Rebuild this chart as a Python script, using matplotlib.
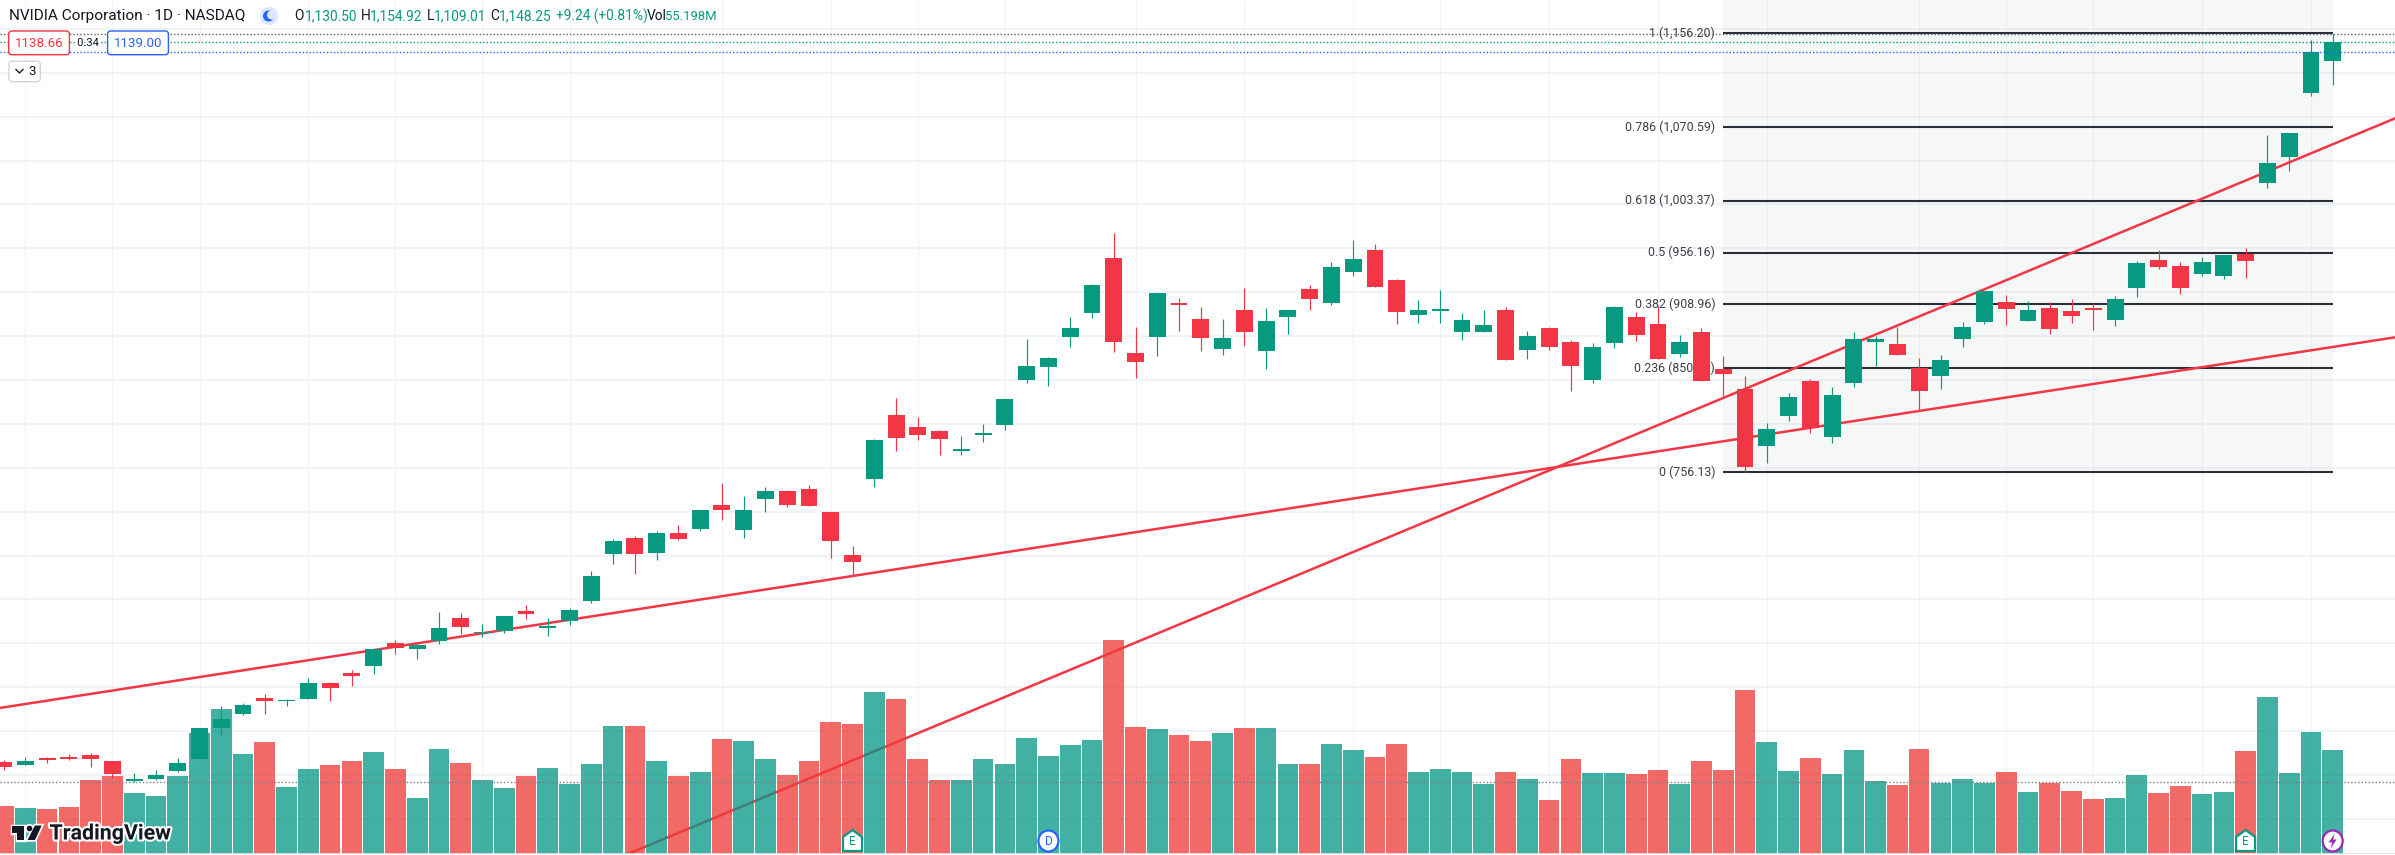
import matplotlib
matplotlib.use("Agg")
import matplotlib.patheffects as pe
import matplotlib.pyplot as plt
import numpy as np
from matplotlib.patches import Circle, Ellipse, FancyBboxPatch, Polygon, Rectangle

plt.rcParams["font.family"] = ["Roboto", "DejaVu Sans"]

opens = [491.5, 489.1, 495.5, 496.4, 498.2, 492.7, 474.8, 476.3, 483.6, 494.6,
         522.8, 535.6, 550.2, 547.1, 549.3, 563.8, 573.0, 579.3, 600.3, 594.8,
         602.1, 623.1, 609.1, 611.2, 629.4, 614.0, 620.3, 638.6, 681.4, 696.0,
         682.3, 700.5, 704.2, 726.0, 703.3, 731.5, 738.8, 740.6, 719.7, 680.5,
         750.0, 808.1, 797.1, 793.5, 775.2, 789.8, 799.0, 840.0, 851.8, 879.1,
         901.0, 951.1, 864.6, 879.1, 910.1, 895.6, 868.2, 903.8, 866.4, 897.4,
         922.9, 910.1, 938.4, 958.4, 931.1, 899.2, 903.1, 883.7, 883.7, 903.8,
         867.3, 887.3, 874.6, 840.1, 873.7, 897.4, 891.0, 863.7, 883.7, 850.0,
         831.8, 779.8, 807.1, 839.0, 788.0, 837.2, 874.6, 872.8, 850.9, 843.6,
         877.3, 892.8, 911.0, 893.7, 905.6, 902.8, 904.7, 894.6, 923.8, 949.3,
         943.9, 936.6, 934.7, 954.8, 1019.5, 1043.2, 1101.5, 1130.5]
highs = [493.7, 496.4, 496.1, 498.8, 500.0, 492.7, 481.8, 484.5, 495.5, 522.8,
         542.9, 545.6, 553.8, 549.3, 568.4, 564.7, 575.7, 594.8, 603.0, 599.4,
         628.5, 627.6, 617.6, 624.9, 634.9, 623.1, 631.9, 665.9, 695.0, 697.8,
         702.3, 707.8, 721.5, 746.1, 734.2, 742.4, 739.7, 744.3, 719.7, 688.7,
         786.2, 823.6, 806.2, 794.4, 788.9, 799.9, 822.6, 877.3, 860.9, 897.4,
         927.4, 973.9, 888.3, 919.2, 914.7, 906.5, 895.6, 923.8, 905.6, 903.8,
         926.5, 947.5, 967.5, 963.9, 932.0, 912.9, 922.0, 901.0, 903.8, 906.5,
         884.6, 888.3, 876.4, 873.7, 907.4, 902.0, 907.4, 881.0, 887.3, 861.8,
         843.6, 800.8, 828.1, 840.9, 833.6, 883.7, 880.1, 888.3, 860.0, 862.7,
         892.8, 921.1, 917.4, 912.0, 911.0, 913.8, 910.1, 916.5, 948.4, 958.4,
         947.5, 952.1, 953.9, 960.3, 1063.2, 1065.0, 1149.8, 1154.92]
lows = [484.5, 489.1, 491.2, 493.7, 487.3, 477.0, 473.9, 475.4, 482.7, 494.6,
        516.4, 534.7, 535.6, 542.9, 549.3, 547.4, 561.1, 572.0, 590.3, 585.7,
        599.4, 608.5, 606.1, 609.4, 622.2, 606.7, 616.7, 636.7, 672.3, 663.2,
        675.9, 694.1, 702.3, 712.4, 696.0, 719.7, 724.2, 725.1, 677.7, 661.4,
        742.7, 775.2, 785.3, 771.6, 771.6, 783.5, 794.4, 837.2, 834.5, 870.0,
        896.5, 865.5, 841.8, 861.8, 884.6, 866.4, 862.7, 870.9, 850.0, 881.9,
        903.8, 908.3, 934.7, 924.7, 891.0, 891.9, 891.9, 876.4, 883.7, 858.2,
        859.1, 867.3, 829.9, 837.2, 869.1, 875.5, 859.1, 860.9, 839.0, 823.6,
        756.1, 764.3, 802.6, 791.7, 782.5, 833.6, 852.7, 862.7, 812.6, 831.8,
        870.0, 891.0, 890.1, 893.7, 881.9, 891.9, 885.5, 889.2, 915.6, 941.1,
        918.3, 934.7, 932.0, 932.9, 1014.9, 1030.4, 1098.8, 1109.01]
closes = [487.3, 492.7, 493.7, 494.6, 494.6, 480.9, 475.4, 480.0, 490.9, 522.8,
          531.0, 543.8, 547.4, 547.7, 563.8, 559.3, 570.2, 594.8, 595.7, 598.5,
          614.0, 614.9, 610.3, 624.9, 626.7, 614.9, 630.4, 661.3, 693.2, 681.4,
          700.5, 695.0, 721.5, 721.5, 721.5, 738.8, 726.0, 725.1, 693.2, 674.1,
          785.3, 787.1, 789.8, 786.2, 776.2, 790.7, 822.6, 852.7, 860.0, 887.3,
          926.5, 874.6, 856.4, 919.2, 908.3, 878.2, 878.2, 883.7, 893.7, 903.8,
          913.8, 943.0, 950.2, 924.7, 901.9, 903.8, 903.8, 894.6, 890.1, 858.2,
          880.1, 870.0, 852.7, 870.0, 906.5, 881.0, 859.1, 874.6, 839.0, 845.4,
          760.7, 795.3, 824.5, 796.2, 826.3, 877.3, 877.3, 862.7, 829.9, 858.2,
          888.3, 921.1, 904.7, 903.8, 886.4, 898.3, 903.8, 913.8, 946.6, 942.9,
          923.8, 947.5, 953.9, 948.4, 1037.7, 1065.0, 1138.9, 1148.25]
volumes = [25.5, 24.4, 23.9, 24.9, 39.3, 41.4, 32.4, 30.8, 41.4, 64.2,
           77.0, 53.0, 59.4, 35.5, 45.1, 47.2, 49.3, 54.1, 45.1, 29.7,
           55.7, 48.3, 39.3, 35.0, 41.4, 45.6, 37.1, 47.8, 67.9, 67.9,
           49.3, 41.4, 43.5, 61.0, 60.0, 50.4, 41.9, 49.3, 70.0, 69.0,
           86.0, 82.3, 50.4, 39.3, 39.3, 50.4, 47.8, 61.6, 52.0, 57.8,
           60.5, 113.6, 67.4, 66.3, 63.1, 60.0, 64.2, 66.9, 66.9, 47.8,
           47.8, 58.4, 55.2, 51.5, 58.4, 43.5, 45.1, 43.5, 37.1, 43.5,
           39.8, 28.6, 50.4, 43.0, 43.0, 42.4, 44.6, 37.1, 49.3, 44.6,
           87.0, 59.4, 44.0, 51.0, 42.4, 55.2, 38.7, 36.6, 55.7, 37.7,
           39.8, 37.7, 43.5, 32.9, 37.7, 33.4, 29.2, 29.7, 41.9, 32.4,
           36.1, 31.8, 32.9, 54.7, 83.3, 43.0, 64.7, 55.198]

fib_levels = ["1", "0.786", "0.618", "0.5", "0.382", "0.236", "0"]
fib_prices = [1156.20, 1070.59, 1003.37, 956.16, 908.96, 850.55, 756.13]
fib_start, fib_end = 79, 107

trend_a_x, trend_a_y = [-0.17, 109.87], [541.1, 878.9]
trend_b_x, trend_b_y = [28.67, 109.87], [408.0, 1078.5]

grid_days = [1, 5, 9, 14, 18, 22, 26, 33, 38, 42, 46, 52, 57, 62, 66, 71, 76, 81, 88, 92, 96, 101, 106]
grid_prices = list(range(440, 1200, 40))

last_high_price = 1155.0
last_close_price = 1148.25
last_ask_price = 1138.8
volume_avg = 38.0

UP = "#089981"
DOWN = "#F23645"
INK = "#131722"

x = np.arange(len(opens))
o, h, l, c = map(np.array, (opens, highs, lows, closes))
is_up = c >= o

fig = plt.figure(figsize=(23.95, 8.55), dpi=100, facecolor="white")
rect = [0, 1 / 855, 1, 854 / 855]
xlim = (-0.165, 109.86)
ylim = (408.0, 1186.27)

ax = fig.add_axes(rect, zorder=1)
ax_vol = fig.add_axes(rect, zorder=2, sharex=ax)
ax_price = fig.add_axes(rect, zorder=3, sharex=ax, sharey=ax)
ax_ui = fig.add_axes([0, 0, 1, 1], zorder=4)

# grid, fib block and trend lines sit under the volume bars
ax.set_xlim(*xlim)
ax.set_ylim(*ylim)
ax.vlines(grid_days, *ylim, color="#f0f3f6", linewidth=0.8, zorder=1)
ax.hlines(grid_prices, *xlim, color="#f0f3f6", linewidth=1.3, zorder=1)
ax.add_patch(Rectangle((fib_start, fib_prices[-1]), fib_end - fib_start, ylim[1] - fib_prices[-1],
                       facecolor="#2a5a4a", alpha=0.04, linewidth=0, zorder=1.5))
ax.hlines(fib_prices, fib_start, fib_end, color="#2a2e39", linewidth=1.5, zorder=2)
for level, price in zip(fib_levels, fib_prices):
    ax.annotate(f"{level} ({price:,.2f})", (fib_start, price), xytext=(-8, 0), textcoords="offset pixels",
                ha="right", va="center", fontsize=8.9, color="#3b3f4a", zorder=3)
ax.plot(trend_a_x, trend_a_y, color=DOWN, linewidth=1.8, zorder=4)
ax.plot(trend_b_x, trend_b_y, color=DOWN, linewidth=1.8, zorder=4)

# volume
ax_vol.set_ylim(0, 453.3)
ax_vol.patch.set_alpha(0)
ax_vol.bar(x[is_up], np.array(volumes)[is_up], width=0.95, color="#079787", alpha=0.76, linewidth=0)
ax_vol.bar(x[~is_up], np.array(volumes)[~is_up], width=0.95, color="#EF3B37", alpha=0.76, linewidth=0)
ax_vol.axhline(volume_avg, color="#787b86", linewidth=1.0, linestyle=(0, (1, 1.5)), zorder=5)

# candles
ax_price.patch.set_alpha(0)
colors = [UP if up else DOWN for up in is_up]
ax_price.vlines(x, l, h, color=colors, linewidth=0.85)
ax_price.bar(x, np.maximum(np.abs(c - o), 1.5), bottom=np.minimum(o, c), width=0.775, color=colors, linewidth=0)

for a in (ax, ax_vol, ax_price):
    a.set_xticks([])
    a.set_yticks([])
    for spine in a.spines.values():
        spine.set_visible(False)
ax.set_xlim(*xlim)
ax.set_ylim(*ylim)

# price lines at the top
ax_price.axhline(last_high_price, color="#5d606b", linewidth=1.0, linestyle=(0, (1, 1.5)))
ax_price.axhline(last_close_price, color=UP, linewidth=1.0, linestyle=(0, (1, 1.5)))
ax_price.axhline(last_ask_price, color="#2962ff", linewidth=1.0, linestyle=(0, (1, 1.5)))
ax_price.axhline(ylim[0], color="#e0e3eb", linewidth=2)

# header and badges, laid out in screen pixels
ax_ui.set_xlim(0, 2395)
ax_ui.set_ylim(855, 0)
ax_ui.axis("off")
ax_ui.patch.set_alpha(0)

ax_ui.text(9, 16, "NVIDIA Corporation · 1D · NASDAQ", fontsize=11.1, color=INK, va="center")
ax_ui.add_patch(Ellipse((269, 16), 18, 18, facecolor="#dbe6ff", linewidth=0))
ax_ui.add_patch(Circle((268.5, 16), 5.5, facecolor="#2962ff", linewidth=0))
ax_ui.add_patch(Circle((271.5, 15), 4.5, facecolor="#dbe6ff", linewidth=0))

value_font = 9.9
for px, letter, value_px, value in [(294, "O", 304.5, "1,130.50"), (361, "H", 369.5, "1,154.92"),
                                    (426.5, "L", 434, "1,109.01"), (490, "C", 499, "1,148.25")]:
    ax_ui.text(px, 16, letter, fontsize=value_font, color=INK, va="center")
    ax_ui.text(value_px, 16, value, fontsize=value_font, color=UP, va="center")
ax_ui.text(555.5, 16, "+9.24 (+0.81%)", fontsize=value_font, color=UP, va="center")
ax_ui.text(647, 16, "Vol", fontsize=value_font, color=INK, va="center")
ax_ui.text(665, 16, "55.198M", fontsize=9.4, color=UP, va="center")


def badge(x0, x1, y0, y1, edge):
    ax_ui.add_patch(FancyBboxPatch((x0 + 2, y0 + 2), x1 - x0 - 4, y1 - y0 - 4, boxstyle="round,pad=2,rounding_size=3",
                                   facecolor="white", edgecolor=edge, linewidth=1.0))


badge(8.7, 69.4, 31, 54.7, DOWN)
ax_ui.text(39, 43.5, "1138.66", fontsize=9.6, color=DOWN, ha="center", va="center")
ax_ui.text(88, 43, "0.34", fontsize=8, color=INK, ha="center", va="center",
           path_effects=[pe.withStroke(linewidth=2, foreground="white")])
badge(107.6, 168.4, 31, 54.7, "#2962ff")
ax_ui.text(138, 43.5, "1139.00", fontsize=9.6, color="#2962ff", ha="center", va="center")
badge(9, 40.3, 61.3, 81.7, "#d1d4dc")
ax_ui.plot([16, 19.5, 23], [69.5, 73, 69.5], color=INK, linewidth=1)
ax_ui.text(32.5, 71.5, "3", fontsize=9.6, color=INK, ha="center", va="center")

# TradingView mark, white halo first and the dark shapes on top
logo_t = [(11.7, 825.5), (24, 825.5), (24, 840), (17.3, 840), (17.3, 832.5), (11.7, 832.5)]
logo_slash = [(35, 825.5), (41.7, 825.5), (35, 840), (27.5, 840)]
ax_ui.add_patch(Polygon(logo_t, facecolor="white", edgecolor="white", linewidth=2.5))
ax_ui.add_patch(Circle((29.5, 828.5), 2.8, facecolor="white", edgecolor="white", linewidth=2.5))
ax_ui.add_patch(Polygon(logo_slash, facecolor="white", edgecolor="white", linewidth=2.5))
ax_ui.add_patch(Polygon(logo_t, facecolor=INK, linewidth=0))
ax_ui.add_patch(Circle((29.5, 828.5), 2.8, facecolor=INK, linewidth=0))
ax_ui.add_patch(Polygon(logo_slash, facecolor=INK, linewidth=0))
ax_ui.text(49.5, 839.5, "TradingView", fontsize=15.4, fontweight="bold", color=INK, va="baseline",
           path_effects=[pe.withStroke(linewidth=3, foreground="white")])


# event badges on the time axis
def earnings_flag(day):
    cx = 3.6 + 21.767 * day
    ax_ui.add_patch(Polygon([(cx - 9.5, 851), (cx - 9.5, 837), (cx, 830), (cx + 9.5, 837), (cx + 9.5, 851)],
                            facecolor="white", edgecolor=UP, linewidth=1.6))
    ax_ui.text(cx, 841.5, "E", fontsize=8.6, color=UP, ha="center", va="center")


def event_dot(day, edge):
    cx = 3.6 + 21.767 * day
    ax_ui.add_patch(Ellipse((cx, 841), 20, 21, facecolor="white", edgecolor=edge, linewidth=1.6))
    return cx


cx_d = event_dot(48, "#2962ff")
ax_ui.text(cx_d, 841.5, "D", fontsize=8.6, color="#2962ff", ha="center", va="center")
cx_s = event_dot(107, "#9c27b0")
ax_ui.add_patch(Polygon([(cx_s + 2, 833.5), (cx_s - 4, 842.5), (cx_s - 0.5, 842.5), (cx_s - 2, 848.5),
                         (cx_s + 4, 839.5), (cx_s + 0.5, 839.5)], facecolor="#9c27b0", linewidth=0))
earnings_flag(39)
earnings_flag(103)

fig.savefig("out.png", dpi=100, facecolor="white")
